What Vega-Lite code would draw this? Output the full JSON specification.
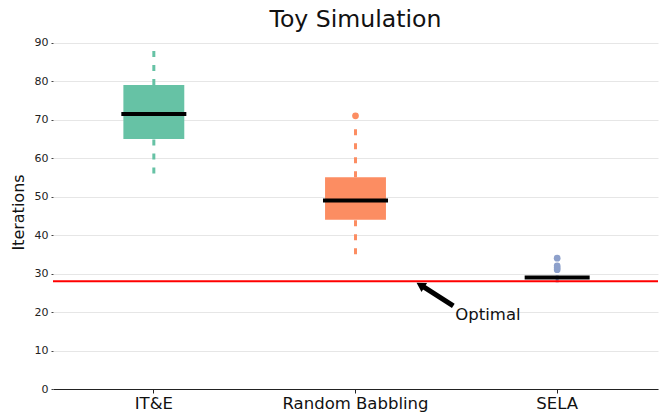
{
  "$schema": "https://vega.github.io/schema/vega-lite/v6.json",
  "width": 605,
  "height": 354,
  "autosize": "none",
  "padding": {"left": 53, "top": 35, "right": 2, "bottom": 26},
  "background": "white",
  "config": {
    "font": "DejaVu Sans",
    "view": {"stroke": null},
    "axis": {"labelFont": "DejaVu Sans", "titleFont": "DejaVu Sans", "labelColor": "#222", "titleColor": "#111", "titleFontWeight": "normal"}
  },
  "title": {"text": "Toy Simulation", "fontSize": 23.6, "fontWeight": "normal", "font": "DejaVu Sans", "color": "#111", "offset": 3},
  "datasets": {
    "boxes": [
      {"method": "IT&E", "min": 56, "q1": 65, "median": 71.5, "q3": 79, "max": 88},
      {"method": "Random Babbling", "min": 35, "q1": 44, "median": 49, "q3": 55, "max": 67.5},
      {"method": "SELA", "min": 27.7, "q1": 28.7, "median": 29, "q3": 29.2, "max": 29.5}
    ],
    "outliers": [
      {"method": "Random Babbling", "value": 71},
      {"method": "SELA", "value": 31},
      {"method": "SELA", "value": 31.5},
      {"method": "SELA", "value": 32},
      {"method": "SELA", "value": 34}
    ],
    "annot": [
      {"x": 1.985, "y": 21.6, "x2": 1.83, "y2": 26.8, "hx": 1.822, "hy": 27.0, "tx": 1.995, "ty": 18.0, "label": "Optimal"}
    ]
  },
  "layer": [
    {
      "encoding": {
        "y": {
          "type": "quantitative",
          "scale": {"domain": [0, 92], "nice": false},
          "axis": {"title": "Iterations", "titleFontSize": 16, "titlePadding": 8, "values": [0,10,20,30,40,50,60,70,80,90], "labelFontSize": 11, "domain": false, "tickSize": 2, "tickColor": "#444", "labelPadding": 3, "grid": true, "gridColor": "#e6e6e6", "gridWidth": 1}
        }
      },
      "layer": [
        {
          "data": {"name": "boxes"},
          "mark": {"type": "rule", "strokeDash": [6, 8], "strokeWidth": 3},
          "encoding": {
            "x": {
              "field": "method", "type": "nominal",
              "scale": {"domain": ["IT&E", "Random Babbling", "SELA"], "paddingInner": 0, "paddingOuter": 0},
              "axis": {"title": null, "labelAngle": 0, "labelFontSize": 16.5, "labelColor": "#111", "domainColor": "#222", "domainWidth": 1.2, "tickColor": "#222", "tickSize": 4, "grid": false, "labelPadding": 2}
            },
            "y": {"field": "min", "type": "quantitative"},
            "y2": {"field": "q1"},
            "color": {
              "field": "method", "type": "nominal",
              "scale": {"domain": ["IT&E", "Random Babbling", "SELA"], "range": ["#66c2a5", "#fc8d62", "#8da0cb"]},
              "legend": null
            }
          }
        },
        {
          "data": {"name": "boxes"},
          "mark": {"type": "rule", "strokeDash": [6, 8], "strokeWidth": 3},
          "encoding": {
            "x": {"field": "method", "type": "nominal"},
            "y": {"field": "q3", "type": "quantitative"},
            "y2": {"field": "max"},
            "color": {"field": "method", "type": "nominal", "legend": null}
          }
        },
        {
          "data": {"name": "boxes"},
          "mark": {"type": "bar", "width": {"band": 0.302}},
          "encoding": {
            "x": {"field": "method", "type": "nominal"},
            "y": {"field": "q1", "type": "quantitative"},
            "y2": {"field": "q3"},
            "color": {"field": "method", "type": "nominal", "legend": null}
          }
        },
        {
          "data": {"name": "boxes"},
          "mark": {"type": "tick", "color": "black", "size": 65, "thickness": 4, "opacity": 1},
          "encoding": {
            "x": {"field": "method", "type": "nominal"},
            "y": {"field": "median", "type": "quantitative"}
          }
        },
        {
          "data": {"name": "outliers"},
          "mark": {"type": "point", "filled": true, "size": 45, "opacity": 1},
          "encoding": {
            "x": {"field": "method", "type": "nominal"},
            "y": {"field": "value", "type": "quantitative"},
            "color": {"field": "method", "type": "nominal", "legend": null}
          }
        },
        {
          "data": {"values": [{"y": 28}]},
          "mark": {"type": "rule", "color": "#ff0000", "strokeWidth": 2},
          "encoding": {"y": {"field": "y", "type": "quantitative"}}
        }
      ]
    },
    {
      "data": {"name": "annot"},
      "layer": [
        {
          "mark": {"type": "rule", "color": "black", "strokeWidth": 5},
          "encoding": {
            "x": {"field": "x", "type": "quantitative", "scale": {"domain": [0, 3], "nice": false}, "axis": null},
            "y": {"field": "y", "type": "quantitative", "scale": {"domain": [0, 92], "nice": false}, "axis": null},
            "x2": {"field": "x2"},
            "y2": {"field": "y2"}
          }
        },
        {
          "mark": {"type": "point", "shape": "triangle-up", "filled": true, "color": "black", "size": 110, "angle": 302, "opacity": 1},
          "encoding": {
            "x": {"field": "hx", "type": "quantitative", "scale": {"domain": [0, 3], "nice": false}, "axis": null},
            "y": {"field": "hy", "type": "quantitative", "scale": {"domain": [0, 92], "nice": false}, "axis": null}
          }
        },
        {
          "mark": {"type": "text", "align": "left", "baseline": "alphabetic", "fontSize": 16.5, "color": "#111", "font": "DejaVu Sans"},
          "encoding": {
            "x": {"field": "tx", "type": "quantitative", "scale": {"domain": [0, 3], "nice": false}, "axis": null},
            "y": {"field": "ty", "type": "quantitative", "scale": {"domain": [0, 92], "nice": false}, "axis": null},
            "text": {"field": "label"}
          }
        }
      ]
    }
  ],
  "resolve": {"scale": {"x": "independent", "y": "independent"}, "axis": {"x": "independent", "y": "independent"}}
}
